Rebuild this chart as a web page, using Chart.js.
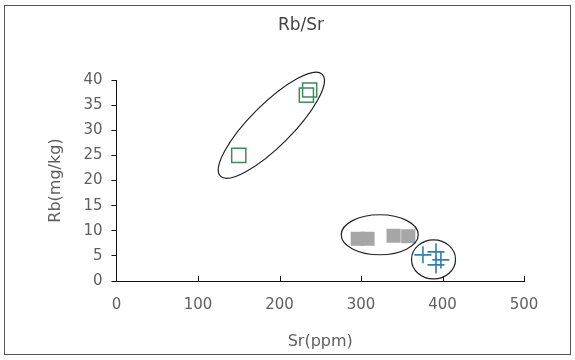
<!DOCTYPE html>
<html>
<head>
<meta charset="utf-8">
<script src="https://cdn.jsdelivr.net/npm/chart.js@4"></script>
<style>
  body { margin: 0; background: #fff; }
  #wrap { position: relative; width: 575px; height: 360px; }
</style>
</head>
<body>
<div id="wrap"><canvas id="chart" width="575" height="360"></canvas></div>
<script>
// values
const greenSr = [150, 233, 237];
const greenRb = [25, 37, 38];
const graySr = [296, 308, 340, 358];
const grayRb = [8.4, 8.4, 9.0, 8.9];
const blueSr = [376, 392, 398, 392];
const blueRb = [5.2, 5.8, 4.2, 3.2];
const xTicks = [0, 100, 200, 300, 400, 500];
const yTicks = [0, 5, 10, 15, 20, 25, 30, 35, 40];

// group outlines: centre in data units
const ringSr = [190, 323, 389];
const ringRb = [31, 9.2, 4.3];

const toPoints = (xs, ys) => xs.map((x, i) => ({ x, y: ys[i] }));
const font = '"DejaVu Sans", sans-serif';
const textColor = '#606060';

const frame = {
  id: 'frame',
  beforeDraw(chart) {
    const ctx = chart.ctx;
    ctx.save();
    ctx.strokeStyle = '#555';
    ctx.lineWidth = 1;
    ctx.strokeRect(4.5, 5.5, 566, 349);
    ctx.fillStyle = '#444';
    ctx.font = '17px ' + font;
    ctx.textAlign = 'center';
    ctx.textBaseline = 'middle';
    ctx.fillText('Rb/Sr', 301, 26);
    ctx.restore();
  },
  afterDatasetsDraw(chart) {
    const { ctx, scales } = chart;
    const shapes = [
      { rx: 72, ry: 21, rot: -Math.PI / 4 },
      { rx: 38.5, ry: 20, rot: 0 },
      { rx: 22, ry: 19.5, rot: 0 }
    ];
    ctx.save();
    ctx.strokeStyle = '#222';
    ctx.lineWidth = 1.2;
    ringSr.forEach((sr, i) => {
      const s = shapes[i];
      ctx.beginPath();
      ctx.ellipse(scales.x.getPixelForValue(sr), scales.y.getPixelForValue(ringRb[i]), s.rx, s.ry, s.rot, 0, Math.PI * 2);
      ctx.stroke();
    });
    // x ticks point inward
    ctx.strokeStyle = '#111';
    ctx.lineWidth = 1;
    const yb = scales.y.getPixelForValue(0);
    xTicks.slice(1).forEach(v => {
      const px = Math.round(scales.x.getPixelForValue(v)) + 0.5;
      ctx.beginPath();
      ctx.moveTo(px, yb);
      ctx.lineTo(px, yb - 5);
      ctx.stroke();
    });
    ctx.restore();
  }
};

new Chart(document.getElementById('chart'), {
  type: 'scatter',
  data: {
    datasets: [
      {
        data: toPoints(greenSr, greenRb),
        pointStyle: 'rect',
        pointRadius: 10,
        backgroundColor: 'rgba(0,0,0,0)',
        borderColor: '#3d8a5c',
        borderWidth: 1.5
      },
      {
        data: toPoints(graySr, grayRb),
        pointStyle: 'rect',
        pointRadius: 10,
        backgroundColor: '#a6a6a6',
        borderColor: '#a6a6a6',
        borderWidth: 0
      },
      {
        data: toPoints(blueSr, blueRb),
        pointStyle: 'cross',
        pointRadius: 8.5,
        borderColor: '#2f7fb5',
        borderWidth: 1.6
      }
    ]
  },
  options: {
    responsive: false,
    animation: false,
    layout: { padding: { top: 80, right: 51, bottom: 0, left: 0 } },
    plugins: {
      legend: { display: false },
      tooltip: { enabled: false }
    },
    scales: {
      x: {
        type: 'linear',
        min: 0,
        max: 500,
        afterBuildTicks: s => { s.ticks = xTicks.map(v => ({ value: v })); },
        afterFit: s => { s.height = 79; },
        grid: { display: false, drawTicks: false },
        border: { color: '#111', width: 1 },
        ticks: { color: textColor, font: { family: font, size: 15 }, padding: 15 },
        title: { display: true, text: 'Sr(ppm)', color: textColor, font: { family: font, size: 16 }, padding: { top: 0, bottom: 9 } }
      },
      y: {
        type: 'linear',
        min: 0,
        max: 40,
        afterBuildTicks: s => { s.ticks = yTicks.map(v => ({ value: v })); },
        afterFit: s => { s.width = 116.5; },
        grid: { drawOnChartArea: false, drawTicks: true, tickLength: 5, color: '#111' },
        border: { color: '#111', width: 1 },
        ticks: { color: textColor, font: { family: font, size: 15 }, padding: 9 },
        title: { display: true, text: 'Rb(mg/kg)', color: textColor, font: { family: font, size: 16 }, padding: { top: 46, bottom: 0 } }
      }
    }
  },
  plugins: [frame]
});
</script>
</body>
</html>
